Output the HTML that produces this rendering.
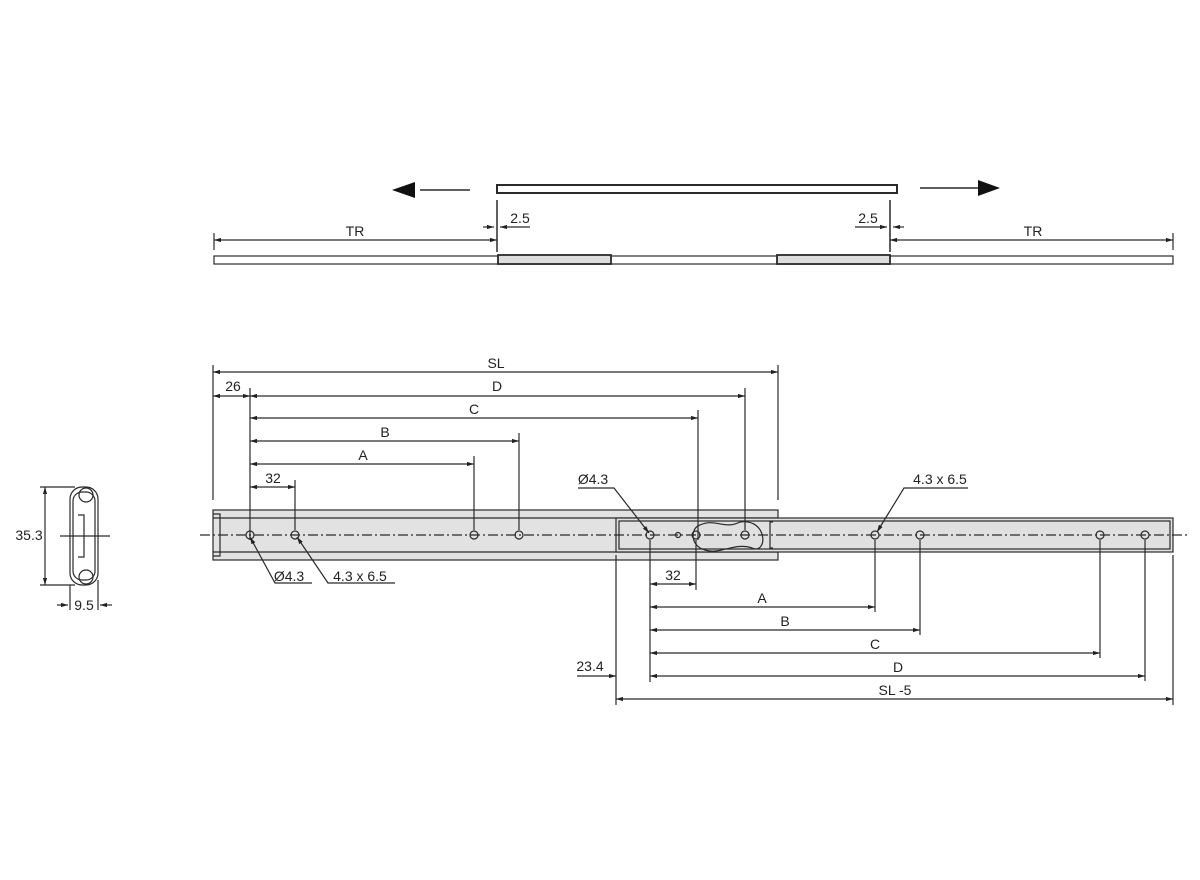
<!DOCTYPE html>
<html><head><meta charset="utf-8"><style>
html,body{margin:0;padding:0;background:#fff}
svg{display:block}
text{font-family:"Liberation Sans",sans-serif;font-size:14px;fill:#222}
</style></head><body>
<svg width="1200" height="880" viewBox="0 0 1200 880" xmlns="http://www.w3.org/2000/svg">
<defs>
<marker id="a" viewBox="0 0 10 10" refX="10" refY="5" markerWidth="6" markerHeight="6" orient="auto-start-reverse"><path d="M0,2 L10,5 L0,8 z" fill="#222"/></marker>
</defs>
<g stroke="#2a2a2a" stroke-width="1.2" fill="none">
<!-- top view -->
<rect x="497" y="185" width="400" height="8" stroke-width="2"/>
<line x1="420" y1="190" x2="470" y2="190" stroke-width="1.5"/>
<path d="M392,190 L415,182 L415,198 z" fill="#111" stroke="none"/>
<line x1="920" y1="188" x2="978" y2="188" stroke-width="1.5"/>
<path d="M1000,188 L978,180 L978,196 z" fill="#111" stroke="none"/>
<rect x="214" y="256" width="959" height="8"/>
<rect x="498" y="255" width="113" height="9" stroke-width="1.8" fill="#ddd"/>
<rect x="777" y="255" width="113" height="9" stroke-width="1.8" fill="#ddd"/>
<line x1="214" y1="233" x2="214" y2="250"/>
<line x1="497" y1="200" x2="497" y2="252" stroke-width="1.5"/>
<line x1="890" y1="200" x2="890" y2="252" stroke-width="1.5"/>
<line x1="1173" y1="233" x2="1173" y2="250"/>
<line x1="214" y1="240" x2="497" y2="240" marker-start="url(#a)" marker-end="url(#a)"/>
<line x1="890" y1="240" x2="1173" y2="240" marker-start="url(#a)" marker-end="url(#a)"/>
<line x1="483" y1="227" x2="494" y2="227" marker-end="url(#a)"/>
<line x1="500" y1="227" x2="530" y2="227" marker-start="url(#a)"/>
<line x1="855" y1="227" x2="887" y2="227" marker-end="url(#a)"/>
<line x1="893" y1="227" x2="904" y2="227" marker-start="url(#a)"/>

<!-- side profile -->
<rect x="70" y="487" width="28" height="98" rx="12"/>
<rect x="73" y="492" width="22" height="88" rx="9"/>
<circle cx="86" cy="495" r="7"/>
<circle cx="86" cy="577" r="7"/>
<path d="M78,515 L84,515 L84,557 L78,557"/>
<line x1="60" y1="536" x2="110" y2="536"/>
<line x1="40" y1="487" x2="75" y2="487"/>
<line x1="40" y1="585" x2="75" y2="585"/>
<line x1="45" y1="487" x2="45" y2="585" marker-start="url(#a)" marker-end="url(#a)"/>
<line x1="70" y1="585" x2="70" y2="610"/>
<line x1="98" y1="580" x2="98" y2="610"/>
<line x1="57" y1="605" x2="68" y2="605" marker-end="url(#a)"/>
<line x1="100" y1="605" x2="112" y2="605" marker-start="url(#a)"/>

<!-- rails -->
<rect x="213" y="510" width="565" height="50" fill="#e2e2e2"/>
<line x1="213" y1="518" x2="778" y2="518"/>
<line x1="213" y1="552" x2="778" y2="552"/>
<rect x="616" y="518" width="557" height="34" fill="#e0e0e0"/>
<rect x="619" y="521" width="551" height="28"/>
<path d="M213,514 L220,514 L220,556 L213,556"/>
<path d="M773,522 L770,522 L770,548 L773,548"/>
<line x1="200" y1="535" x2="1190" y2="535" stroke-dasharray="10,3,2,3"/>
<path d="M700,525 C715,518 725,530 740,522 C768,518 768,555 752,548 C735,542 720,555 705,550 C690,546 690,528 700,525 z"/>
<g>
<circle cx="250" cy="535" r="4"/><circle cx="295" cy="535" r="4"/><circle cx="474" cy="535" r="4"/><circle cx="519" cy="535" r="4"/>
<circle cx="650" cy="535" r="4"/><circle cx="678" cy="535" r="2.5"/><circle cx="696" cy="535" r="4"/><circle cx="745" cy="535" r="4"/>
<circle cx="875" cy="535" r="4"/><circle cx="920" cy="535" r="4"/><circle cx="1100" cy="535" r="4"/><circle cx="1145" cy="535" r="4"/>
</g>
<!-- top dims -->
<line x1="213" y1="365" x2="213" y2="500"/>
<line x1="778" y1="365" x2="778" y2="500"/>
<line x1="250" y1="388" x2="250" y2="540"/>
<line x1="745" y1="388" x2="745" y2="530"/>
<line x1="698" y1="410" x2="698" y2="540"/>
<line x1="519" y1="433" x2="519" y2="530"/>
<line x1="474" y1="456" x2="474" y2="530"/>
<line x1="295" y1="480" x2="295" y2="530"/>
<line x1="213" y1="372" x2="778" y2="372" marker-start="url(#a)" marker-end="url(#a)"/>
<line x1="213" y1="396" x2="250" y2="396" marker-start="url(#a)" marker-end="url(#a)"/>
<line x1="250" y1="396" x2="745" y2="396" marker-start="url(#a)" marker-end="url(#a)"/>
<line x1="250" y1="418" x2="698" y2="418" marker-start="url(#a)" marker-end="url(#a)"/>
<line x1="250" y1="441" x2="519" y2="441" marker-start="url(#a)" marker-end="url(#a)"/>
<line x1="250" y1="464" x2="474" y2="464" marker-start="url(#a)" marker-end="url(#a)"/>
<line x1="250" y1="487" x2="295" y2="487" marker-start="url(#a)" marker-end="url(#a)"/>
<!-- bottom dims -->
<line x1="616" y1="555" x2="616" y2="705"/>
<line x1="650" y1="540" x2="650" y2="682"/>
<line x1="696" y1="540" x2="696" y2="590"/>
<line x1="875" y1="540" x2="875" y2="612"/>
<line x1="920" y1="540" x2="920" y2="635"/>
<line x1="1100" y1="540" x2="1100" y2="658"/>
<line x1="1145" y1="540" x2="1145" y2="681"/>
<line x1="1173" y1="555" x2="1173" y2="705"/>
<line x1="650" y1="584" x2="696" y2="584" marker-start="url(#a)" marker-end="url(#a)"/>
<line x1="650" y1="607" x2="875" y2="607" marker-start="url(#a)" marker-end="url(#a)"/>
<line x1="650" y1="630" x2="920" y2="630" marker-start="url(#a)" marker-end="url(#a)"/>
<line x1="650" y1="653" x2="1100" y2="653" marker-start="url(#a)" marker-end="url(#a)"/>
<line x1="650" y1="676" x2="1145" y2="676" marker-start="url(#a)" marker-end="url(#a)"/>
<line x1="577" y1="676" x2="616" y2="676" marker-end="url(#a)"/>
<line x1="616" y1="699" x2="1173" y2="699" marker-start="url(#a)" marker-end="url(#a)"/>
<!-- leaders -->
<path d="M250,537 L275,583 L312,583" marker-start="url(#a)"/>
<path d="M297,537 L328,583 L395,583" marker-start="url(#a)"/>
<path d="M649,533 L614,488 L578,488" marker-start="url(#a)"/>
<path d="M877,532 L904,488 L968,488" marker-start="url(#a)"/>
</g>
<g text-anchor="middle">
<text x="355" y="236">TR</text>
<text x="1033" y="236">TR</text>
<text x="520" y="223">2.5</text>
<text x="868" y="223">2.5</text>
<text x="496" y="368">SL</text>
<text x="233" y="391">26</text>
<text x="497" y="391">D</text>
<text x="474" y="414">C</text>
<text x="385" y="437">B</text>
<text x="363" y="460">A</text>
<text x="273" y="483">32</text>
<text x="673" y="580">32</text>
<text x="762" y="603">A</text>
<text x="785" y="626">B</text>
<text x="875" y="649">C</text>
<text x="898" y="672">D</text>
<text x="895" y="695">SL -5</text>
<text x="590" y="671">23.4</text>
<text x="29" y="540">35.3</text>
<text x="84" y="610">9.5</text>
<text x="289" y="581">Ø4.3</text>
<text x="360" y="581">4.3 x 6.5</text>
<text x="593" y="484">Ø4.3</text>
<text x="940" y="484">4.3 x 6.5</text>
</g>
</svg>
</body></html>
